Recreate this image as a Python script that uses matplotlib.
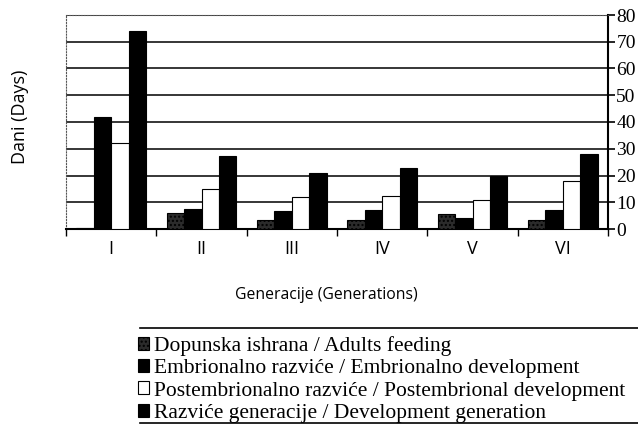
import numpy as np
import matplotlib
matplotlib.use("Agg")
from matplotlib import pyplot as plt
from matplotlib.lines import Line2D

# data
generations = ["I", "II", "III", "IV", "V", "VI"]
adults_feeding = [0.3, 6.0, 3.4, 3.4, 5.6, 3.4]
embryonal = [42.0, 7.4, 6.8, 7.1, 4.0, 7.1]
postembryonal = [32.0, 15.0, 12.0, 12.5, 10.8, 18.0]
development = [74.0, 27.3, 20.8, 22.7, 19.8, 28.0]

labels = [
    "Dopunska ishrana / Adults feeding",
    "Embrionalno razviće / Embrionalno development",
    "Postembrionalno razviće / Postembrional development",
    "Razviće generacije / Development generation",
]

plt.rcParams["hatch.color"] = "#555555"
fig = plt.figure(figsize=(6.38, 4.26), dpi=100)
ax = fig.add_axes([66 / 638, 1 - 229 / 426, 542 / 638, 214 / 426])

x = np.arange(len(generations))
w = 0.192
series = [adults_feeding, embryonal, postembryonal, development]
faces = ["#2b2b2b", "black", "white", "black"]
hatches = ["....", None, None, None]
bars = []
for i, (vals, fc, h) in enumerate(zip(series, faces, hatches)):
    b = ax.bar(x + (i - 1.5) * w, vals, w, color=fc, edgecolor="black",
               linewidth=0.8, hatch=h, zorder=3, label=labels[i])
    bars.append(b)

ax.set_xlim(-0.5, 5.5)
ax.set_ylim(0, 80)
ax.set_yticks(range(0, 81, 10))
ax.yaxis.tick_right()
ax.grid(axis="y", color="black", linewidth=1.1, zorder=0)
ax.set_axisbelow(True)

for s in ["top", "left"]:
    ax.spines[s].set_linestyle(":")
    ax.spines[s].set_color("#555555")
    ax.spines[s].set_linewidth(0.8)
ax.spines["right"].set_linewidth(1.5)
ax.spines["bottom"].set_linewidth(1.5)

ax.tick_params(axis="y", direction="out", length=5, width=1.2, pad=1,
               labelsize=14, right=True, left=False)
for t in ax.get_yticklabels():
    t.set_family("Liberation Serif")

ax.set_xticks(x)
ax.set_xticklabels(generations, family="Open Sans", fontsize=13)
ax.set_xticks(np.arange(-0.5, 6, 1), minor=True)
ax.tick_params(axis="x", which="major", length=0, pad=8)
ax.tick_params(axis="x", which="minor", direction="out", length=5, width=1)

ax.set_xlabel("Generacije (Generations)", family="Open Sans", fontsize=11.3)
ax.xaxis.set_label_coords(0.481, -0.27)
fig.text(20 / 638, 1 - 117 / 426, "Dani (Days)", rotation=90, family="Open Sans",
         fontsize=13, ha="center", va="center")

leg = fig.legend(handles=bars, loc="upper left",
                 bbox_to_anchor=(138 / 638, 1 - 336 / 426), frameon=False,
                 prop={"family": "Liberation Serif", "size": 15.5},
                 handlelength=0.5, handleheight=0.55, handletextpad=0.25,
                 labelspacing=0.15, borderaxespad=0, borderpad=0)
fig.add_artist(Line2D([140 / 638, 1], [1 - 328 / 426, 1 - 328 / 426],
                      color="black", linewidth=1.2))
fig.add_artist(Line2D([140 / 638, 1], [1 - 423 / 426, 1 - 423 / 426],
                      color="black", linewidth=1.2))

fig.savefig("out.png", dpi=100)
